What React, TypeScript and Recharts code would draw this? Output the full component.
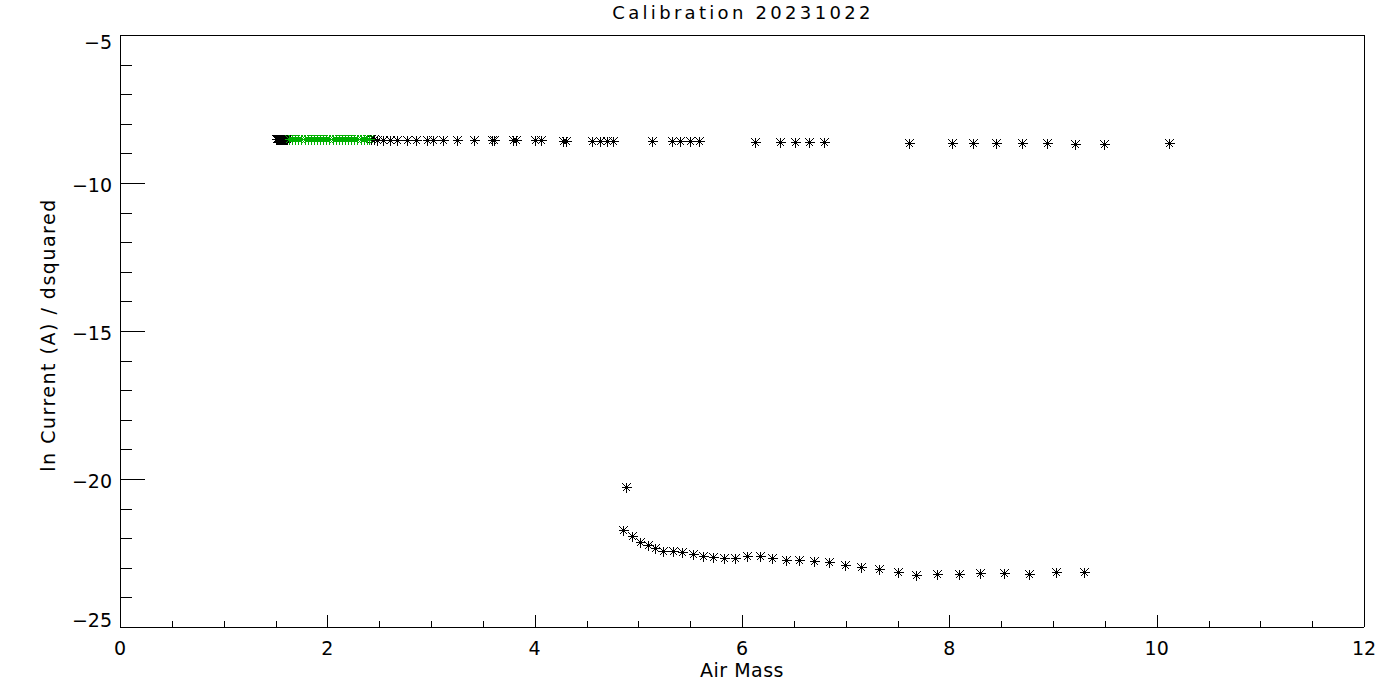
import { ScatterChart, Scatter, XAxis, YAxis } from "recharts";

// values
const upperBlackX = [
  1.5, 1.51, 1.52, 1.53, 1.54, 1.55, 1.56, 1.57, 1.58, 1.59, 1.6, 1.61,
  2.42, 2.45, 2.48, 2.54, 2.6, 2.67, 2.77, 2.86, 2.96, 3.02, 3.12, 3.25,
  3.41, 3.59, 3.61, 3.79, 3.82, 4.0, 4.06, 4.27, 4.3, 4.55, 4.63, 4.7,
  4.76, 5.13, 5.32, 5.4, 5.5, 5.59, 6.13, 6.37, 6.51, 6.65, 6.79, 7.61,
  8.03, 8.23, 8.45, 8.7, 8.94, 9.21, 9.49, 10.12,
];
const upperBlackY = [
  -8.53, -8.53, -8.53, -8.53, -8.53, -8.53, -8.53, -8.53, -8.53, -8.53, -8.53, -8.53,
  -8.53, -8.53, -8.54, -8.55, -8.55, -8.55, -8.55, -8.55, -8.55, -8.55, -8.55, -8.55,
  -8.55, -8.55, -8.55, -8.56, -8.56, -8.56, -8.56, -8.57, -8.57, -8.58, -8.58, -8.58,
  -8.58, -8.58, -8.59, -8.59, -8.59, -8.59, -8.6, -8.6, -8.61, -8.62, -8.62, -8.64,
  -8.64, -8.64, -8.64, -8.64, -8.64, -8.68, -8.68, -8.66,
];

const greenX = [
  1.63, 1.66, 1.69, 1.72, 1.75, 1.78, 1.81, 1.84, 1.87, 1.9, 1.93, 1.96,
  1.99, 2.02, 2.05, 2.08, 2.11, 2.14, 2.17, 2.2, 2.23, 2.26, 2.29, 2.32,
  2.35, 2.38, 2.4,
];
const greenY = [
  -8.52, -8.52, -8.52, -8.52, -8.52, -8.52, -8.52, -8.52, -8.52, -8.52, -8.52, -8.52,
  -8.52, -8.52, -8.52, -8.52, -8.52, -8.52, -8.52, -8.52, -8.52, -8.52, -8.52, -8.52,
  -8.52, -8.52, -8.52,
];

const lowerX = [
  4.88, 4.85, 4.94, 5.02, 5.09, 5.16, 5.24, 5.33, 5.42, 5.53, 5.62, 5.72,
  5.83, 5.93, 6.05, 6.17, 6.29, 6.42, 6.55, 6.69, 6.84, 6.99, 7.15, 7.32,
  7.5, 7.68, 7.88, 8.09, 8.3, 8.53, 8.77, 9.03, 9.3,
];
const lowerY = [
  -20.28, -21.72, -21.93, -22.12, -22.24, -22.32, -22.42, -22.42, -22.46, -22.53, -22.59, -22.64,
  -22.68, -22.68, -22.6, -22.6, -22.68, -22.74, -22.74, -22.77, -22.8, -22.9, -22.96, -23.05,
  -23.15, -23.24, -23.21, -23.21, -23.17, -23.18, -23.21, -23.14, -23.13,
];

const xTicks = [0, 0.5, 1, 1.5, 2, 2.5, 3, 3.5, 4, 4.5, 5, 5.5, 6, 6.5, 7, 7.5, 8, 8.5, 9, 9.5, 10, 10.5, 11, 11.5, 12];
const yTicks = [-25, -24, -23, -22, -21, -20, -19, -18, -17, -16, -15, -14, -13, -12, -11, -10, -9, -8, -7, -6, -5];

const FONT = "'DejaVu Sans', sans-serif";

const toPoints = (xs: number[], ys: number[]) => xs.map((x, i) => ({ x, y: ys[i] }));

const fmt = (v: number) => String(v).replace("-", "\u2212");

// IDL style asterisk (psym=2)
function Asterisk({ cx, cy, color }: { cx?: number; cy?: number; color: string }) {
  if (cx == null || cy == null) return null;
  const x = Math.round(cx) + 0.5;
  const y = Math.round(cy) + 0.5;
  const r = 5;
  const d = 4;
  return (
    <g stroke={color} strokeWidth={1} shapeRendering="crispEdges">
      <line x1={x - r} x2={x + r} y1={y} y2={y} />
      <line x1={x} x2={x} y1={y - r} y2={y + r} />
      <line x1={x - d} x2={x + d} y1={y - d} y2={y + d} />
      <line x1={x - d} x2={x + d} y1={y + d} y2={y - d} />
    </g>
  );
}

function BottomTick({ x, y, payload }: any) {
  const major = payload.value % 2 === 0;
  const px = Math.round(x) + 0.5;
  return (
    <g>
      <line x1={px} x2={px} y1={y} y2={y - (major ? 12 : 6)} stroke="#000" shapeRendering="crispEdges" />
      {major && (
        <text x={x} y={y + 28} textAnchor="middle" fontSize={19} fontFamily={FONT} fill="#000">
          {fmt(payload.value)}
        </text>
      )}
    </g>
  );
}

function TopTick({ x, y, payload }: any) {
  const major = payload.value % 2 === 0;
  const px = Math.round(x) + 0.5;
  return (
    <line x1={px} x2={px} y1={y} y2={y + (major ? 12 : 6)} stroke="#000" shapeRendering="crispEdges" />
  );
}

function LeftTick({ x, y, payload }: any) {
  const v = payload.value;
  const major = v % 5 === 0;
  const py = Math.round(y) + 0.5;
  const shift = v === -5 ? 14 : v === -25 ? 0 : 9;
  return (
    <g>
      <line x1={x} x2={x + (major ? 25 : 12)} y1={py} y2={py} stroke="#000" shapeRendering="crispEdges" />
      {major && (
        <text x={x - 8} y={y + shift} textAnchor="end" fontSize={19} fontFamily={FONT} fill="#000">
          {fmt(v)}
        </text>
      )}
    </g>
  );
}

function RightTick({ x, y, payload }: any) {
  const major = payload.value % 5 === 0;
  const py = Math.round(y) + 0.5;
  return (
    <line x1={x} x2={x - (major ? 25 : 12)} y1={py} y2={py} stroke="#000" shapeRendering="crispEdges" />
  );
}

export default function App() {
  const axisLine = { stroke: "#000", strokeWidth: 1, shapeRendering: "crispEdges" };
  return (
    <div style={{ position: "absolute", left: 0, top: 0, width: 1400, height: 700, background: "#fff" }}>
      <ScatterChart width={1400} height={700} margin={{ top: 5, right: 0, bottom: 33, left: 60 }}>
        <XAxis
          xAxisId="b"
          dataKey="x"
          type="number"
          domain={[0, 12]}
          ticks={xTicks}
          interval={0}
          height={40}
          tickSize={0}
          tickMargin={0}
          tickLine={false}
          axisLine={axisLine}
          tick={<BottomTick />}
        />
        <XAxis
          xAxisId="t"
          orientation="top"
          dataKey="x"
          type="number"
          domain={[0, 12]}
          ticks={xTicks}
          interval={0}
          height={30}
          tickSize={0}
          tickMargin={0}
          tickLine={false}
          axisLine={axisLine}
          tick={<TopTick />}
        />
        <YAxis
          yAxisId="l"
          dataKey="y"
          type="number"
          domain={[-25, -5]}
          ticks={yTicks}
          interval={0}
          width={60}
          tickSize={0}
          tickMargin={0}
          tickLine={false}
          axisLine={axisLine}
          tick={<LeftTick />}
        />
        <YAxis
          yAxisId="r"
          orientation="right"
          dataKey="y"
          type="number"
          domain={[-25, -5]}
          ticks={yTicks}
          interval={0}
          width={36}
          tickSize={0}
          tickMargin={0}
          tickLine={false}
          axisLine={axisLine}
          tick={<RightTick />}
        />
        <Scatter
          xAxisId="b"
          yAxisId="l"
          data={toPoints(upperBlackX, upperBlackY)}
          isAnimationActive={false}
          shape={(p: any) => <Asterisk cx={p.cx} cy={p.cy} color="#000" />}
        />
        <Scatter
          xAxisId="b"
          yAxisId="l"
          data={toPoints(lowerX, lowerY)}
          isAnimationActive={false}
          shape={(p: any) => <Asterisk cx={p.cx} cy={p.cy} color="#000" />}
        />
        <Scatter
          xAxisId="b"
          yAxisId="l"
          data={toPoints(greenX, greenY)}
          isAnimationActive={false}
          shape={(p: any) => <Asterisk cx={p.cx} cy={p.cy} color="#00b000" />}
        />
      </ScatterChart>
      <svg
        width={1400}
        height={700}
        style={{ position: "absolute", left: 0, top: 0, pointerEvents: "none" }}
      >
        <text x={743} y={19} textAnchor="middle" fontSize={18} letterSpacing={3.3} fontFamily={FONT} fill="#000">
          Calibration 20231022
        </text>
        <text x={742} y={677} textAnchor="middle" fontSize={19} letterSpacing={0.5} fontFamily={FONT} fill="#000">
          Air Mass
        </text>
        <text
          x={55}
          y={335}
          transform="rotate(-90 55 335)"
          textAnchor="middle"
          fontSize={19}
          letterSpacing={1.5}
          fontFamily={FONT}
          fill="#000"
        >
          ln Current (A) / dsquared
        </text>
      </svg>
    </div>
  );
}
